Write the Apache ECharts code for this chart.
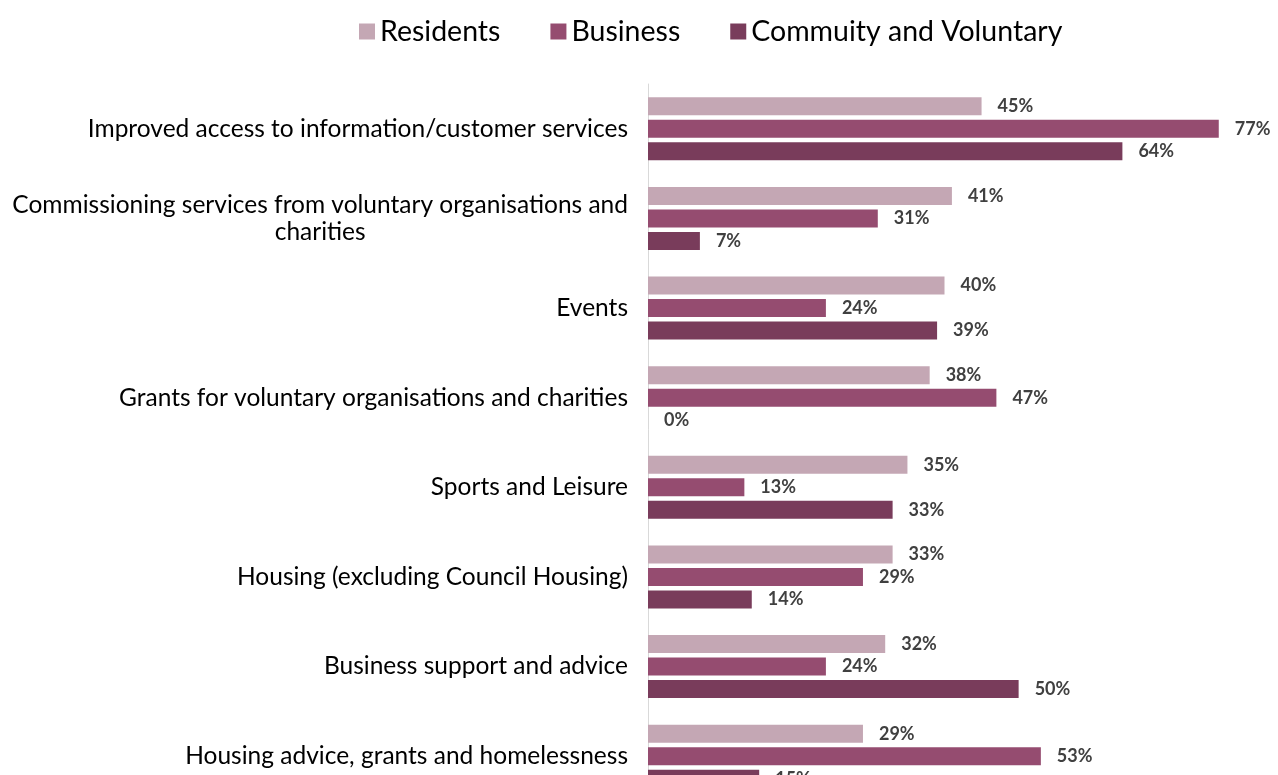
<!DOCTYPE html>
<html><head><meta charset="utf-8">
<script src="https://cdn.jsdelivr.net/npm/echarts@6/dist/echarts.min.js"></script>
<style>html,body{margin:0;padding:0;background:#fff}#c{width:1278px;height:775px}</style>
</head><body><div id="c"></div>
<script>
const categories = [
  "Improved access to information/customer services",
  "Commissioning services from voluntary organisations and\ncharities",
  "Events",
  "Grants for voluntary organisations and charities",
  "Sports and Leisure",
  "Housing (excluding Council Housing)",
  "Business support and advice",
  "Housing advice, grants and homelessness"
];
const seriesNames = ["Residents", "Business", "Commuity and Voluntary"];
const residents = [45, 41, 40, 38, 35, 33, 32, 29];
const business = [77, 31, 24, 47, 13, 29, 24, 53];
const community = [64, 7, 39, 0, 33, 14, 50, 15];
const colors = ["#c4a7b4", "#954c70", "#793c5b"];

const chart = echarts.init(document.getElementById('c'), null, {renderer: 'canvas'});
const lbl = {show: true, position: 'right', distance: 16, formatter: '{c}%',
  fontFamily: 'Lato', fontWeight: 'bold', fontSize: 18, color: '#404040'};
const mk = (name, data, i) => ({
  name, type: 'bar', data, barWidth: 18, barGap: '25%',
  itemStyle: {color: colors[i]}, label: lbl
});
chart.setOption({
  animation: false,
  textStyle: {fontFamily: 'Lato'},
  legend: {
    data: seriesNames, top: 12, left: 354, itemWidth: 16, itemHeight: 16, itemGap: 50,
    textStyle: {fontFamily: 'Lato', fontSize: 28.5, color: '#000'}, icon: 'rect'
  },
  grid: {left: 648, top: 84, width: 593, height: 717, containLabel: false, outerBoundsMode: 'none'},
  xAxis: {type: 'value', min: 0, max: 80, show: false},
  yAxis: {
    type: 'category', data: categories, inverse: true,
    axisLine: {show: true, lineStyle: {color: '#d9d9d9', width: 1}},
    axisTick: {show: false},
    axisLabel: {
      margin: 20, fontFamily: 'Lato', fontSize: 24.5, color: '#000', lineHeight: 27,
      formatter: function (v) {
        if (v.indexOf('\n') >= 0) {
          return v.split('\n').map(s => '{c|' + s + '}').join('\n');
        }
        return v;
      },
      rich: {c: {align: 'center', fontFamily: 'Lato', fontSize: 24.5, color: '#000', lineHeight: 27}}
    }
  },
  series: [mk(seriesNames[0], residents, 0), mk(seriesNames[1], business, 1), mk(seriesNames[2], community, 2)]
});
</script></body></html>
